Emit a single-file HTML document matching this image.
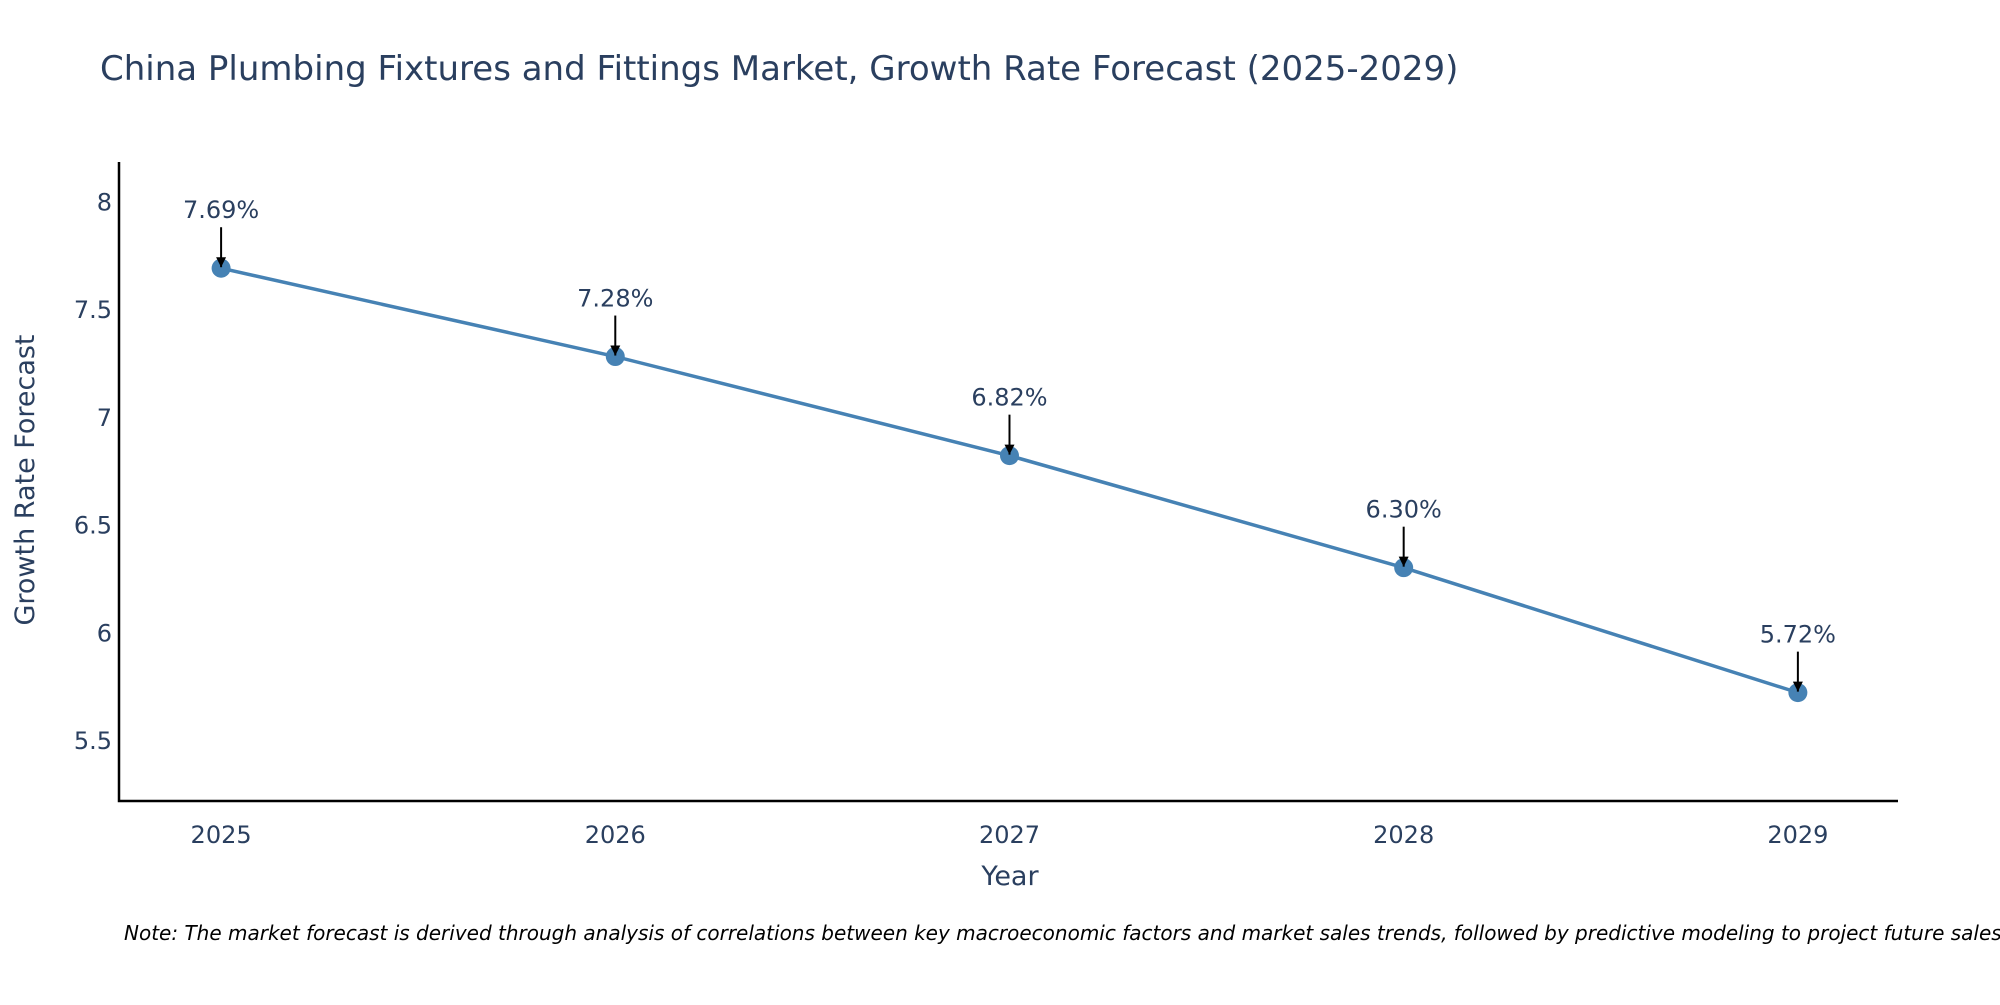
<!DOCTYPE html>
<html><head><meta charset="utf-8"><style>
body{margin:0;background:#fff;overflow:hidden;}
text{font-family:"DejaVu Sans","Liberation Sans",sans-serif;fill:#2a3f5f;}
</style></head><body>
<svg id="chart" width="2000" height="1000" viewBox="0 0 2000 1000" xmlns="http://www.w3.org/2000/svg">
<defs><marker id="ah" viewBox="0 0 10 10" refX="10" refY="5" markerWidth="5" markerHeight="5" orient="auto"><path d="M0,0L10,5L0,10z" fill="#000"/></marker></defs>
<text x="100" y="80" font-size="34">China Plumbing Fixtures and Fittings Market, Growth Rate Forecast (2025-2029)</text>
<g id="plot"></g>
<text transform="translate(34,480) rotate(-90)" text-anchor="middle" font-size="27">Growth Rate Forecast</text>
<text x="1010" y="885" text-anchor="middle" font-size="27">Year</text>
<text x="124" y="940" font-size="20" font-style="italic" style="fill:#000">Note: The market forecast is derived through analysis of correlations between key macroeconomic factors and market sales trends, followed by predictive modeling to project future sales.</text>
</svg>
<script>
const years=[2025,2026,2027,2028,2029];
const values=[7.69,7.28,6.82,6.30,5.72];
const labels=["7.69%","7.28%","6.82%","6.30%","5.72%"];
const yTicks=[5.5,6,6.5,7,7.5,8];
const yTickLabels=["5.5","6","6.5","7","7.5","8"];
const NS="http://www.w3.org/2000/svg";
const g=document.getElementById('plot');
const L=119,R=1898,T=162,B=801;
const xMin=2024.741,xMax=2029.254,yMin=5.217,yMax=8.183;
const xs=v=>L+(v-xMin)/(xMax-xMin)*(R-L);
const ys=v=>B-(v-yMin)/(yMax-yMin)*(B-T);
function mk(tag,attrs){const e=document.createElementNS(NS,tag);for(const k in attrs)e.setAttribute(k,attrs[k]);g.appendChild(e);return e;}
let e=mk('path',{d:`M${L},${T}V${B}H${R}`,stroke:'#000','stroke-width':2.5,fill:'none'});


yTicks.forEach((t,i)=>{const tx=mk('text',{x:112,y:ys(t)+9,'text-anchor':'end','font-size':24});tx.textContent=yTickLabels[i];

});
years.forEach(y=>{const tx=mk('text',{x:xs(y),y:B+33+9,'text-anchor':'middle','font-size':24});tx.textContent=y;

});
const ln=mk('path',{d:years.map((y,i)=>(i?'L':'M')+xs(y)+','+ys(values[i])).join(''),stroke:'#4682b4','stroke-width':3.5,fill:'none'});


years.forEach((y,i)=>{const c=mk('circle',{cx:xs(y),cy:ys(values[i]),r:9.5,fill:'#4682b4'});


const a=mk('line',{x1:xs(y),y1:ys(values[i])-41,x2:xs(y),y2:ys(values[i])-1,stroke:'#000','stroke-width':2,'marker-end':'url(#ah)'});


const t=mk('text',{x:xs(y),y:ys(values[i])-50,'text-anchor':'middle','font-size':24});t.textContent=labels[i];

});
</script>
</body></html>
